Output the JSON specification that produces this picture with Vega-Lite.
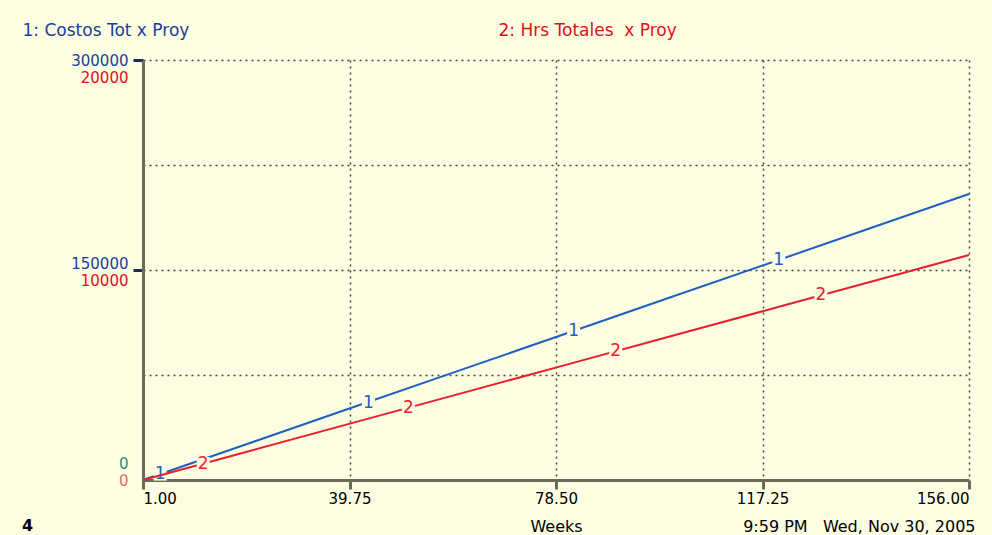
{
  "$schema": "https://vega.github.io/schema/vega-lite/v6.json",
  "width": 826,
  "height": 420,
  "autosize": "none",
  "padding": {"left": 143, "top": 60, "right": 23, "bottom": 55},
  "background": "#fdfde2",
  "config": {
    "view": {"stroke": null},
    "font": "DejaVu Sans",
    "axis": {"labelFont": "DejaVu Sans", "titleFont": "DejaVu Sans", "labelFontSize": 15, "titleFontSize": 16, "titleFontWeight": "normal"}
  },
  "title": {"text": "4", "orient": "bottom", "anchor": "start", "frame": "bounds", "fontSize": 16, "fontWeight": "bold", "color": "#000000", "offset": -16, "font": "DejaVu Sans"},
  "datasets": {
    "costos": [
      {"week": 1, "value": 0},
      {"week": 20, "value": 25040},
      {"week": 40, "value": 51400},
      {"week": 60, "value": 77760},
      {"week": 80, "value": 104100},
      {"week": 100, "value": 130500},
      {"week": 120, "value": 156800},
      {"week": 140, "value": 183200},
      {"week": 156, "value": 204300}
    ],
    "horas": [
      {"week": 1, "value": 0},
      {"week": 20, "value": 1313},
      {"week": 40, "value": 2695},
      {"week": 60, "value": 4077},
      {"week": 80, "value": 5460},
      {"week": 100, "value": 6842},
      {"week": 120, "value": 8224},
      {"week": 140, "value": 9606},
      {"week": 156, "value": 10714}
    ],
    "lab1": [
      {"week": 4.2, "value": 4218, "label": "1"},
      {"week": 43.3, "value": 55300, "label": "1"},
      {"week": 81.8, "value": 106500, "label": "1"},
      {"week": 120.3, "value": 157240, "label": "1"}
    ],
    "lab2": [
      {"week": 12.3, "value": 781, "label": "2"},
      {"week": 50.8, "value": 3441, "label": "2"},
      {"week": 89.7, "value": 6129, "label": "2"},
      {"week": 128.2, "value": 8790, "label": "2"}
    ]
  },
  "layer": [
    {
      "layer": [
        {
          "data": {"name": "costos"},
          "mark": {"type": "line", "color": "#1f5fc0", "strokeWidth": 2},
          "encoding": {
            "x": {"field": "week", "type": "quantitative", "scale": {"domain": [1, 156], "nice": false, "zero": false},
              "axis": {"orient": "bottom", "values": [1, 39.75, 78.5, 117.25, 156], "format": ".2f", "labelFlush": true, "labelColor": "#000000", "labelFontSize": 15,
                "grid": true, "gridColor": "#444438", "gridDash": [2, 4], "gridWidth": 1.5,
                "domain": true, "domainColor": "#6b6b58", "domainWidth": 3,
                "ticks": true, "tickColor": "#6b6b58", "tickWidth": 3, "tickSize": 9, "labelPadding": 2,
                "title": "Weeks", "titleFontSize": 16, "titleColor": "#000000", "titleY": 46, "titleBaseline": "middle"}},
            "y": {"field": "value", "type": "quantitative", "scale": {"domain": [0, 300000], "nice": false},
              "axis": {"orient": "left", "values": [0, 75000, 150000, 225000, 300000], "format": "d", "labelFontSize": 15,
                "labelExpr": "datum.value % 150000 == 0 ? datum.label : ''",
                "labelColor": {"condition": {"test": "datum.value == 0", "value": "#2a8a78"}, "value": "#1b3e9c"},
                "labelOffset": {"condition": [{"test": "datum.value == 0", "value": -17}, {"test": "datum.value == 150000", "value": -7}], "value": 0},
                "grid": true, "gridColor": "#444438", "gridDash": [2, 4], "gridWidth": 1.5,
                "domain": true, "domainColor": "#6b6b58", "domainWidth": 3,
                "ticks": true, "tickSize": 10, "tickWidth": 3,
                "tickColor": {"condition": {"test": "datum.value % 150000 == 0 && datum.value > 0", "value": "#1b2a5a"}, "value": "transparent"},
                "labelPadding": 5,
                "title": "1: Costos Tot x Proy", "titleFontSize": 17, "titleColor": "#1b3e9c", "titleAngle": 0, "titleAlign": "left", "titleBaseline": "middle", "titleX": -121, "titleY": -30}}
          }
        },
        {
          "data": {"name": "lab1"},
          "mark": {"type": "point", "shape": "square", "filled": true, "color": "#fdfde2", "opacity": 1, "size": 170},
          "encoding": {"x": {"field": "week", "type": "quantitative"}, "y": {"field": "value", "type": "quantitative"}}
        },
        {
          "data": {"name": "lab1"},
          "mark": {"type": "text", "color": "#1f5fc0", "fontSize": 17, "font": "DejaVu Sans"},
          "encoding": {"x": {"field": "week", "type": "quantitative"}, "y": {"field": "value", "type": "quantitative"}, "text": {"field": "label"}}
        }
      ]
    },
    {
      "layer": [
        {
          "data": {"name": "horas"},
          "mark": {"type": "line", "color": "#e8202a", "strokeWidth": 2},
          "encoding": {
            "x": {"field": "week", "type": "quantitative",
              "axis": {"orient": "bottom", "labels": false, "ticks": false, "domain": false, "grid": false,
                "title": "9:59 PM\u00a0\u00a0\u00a0Wed, Nov 30, 2005", "titleFontSize": 16, "titleColor": "#000000", "titleX": 832, "titleY": 46, "titleAlign": "right", "titleBaseline": "middle"}},
            "y": {"field": "value", "type": "quantitative", "scale": {"domain": [0, 20000], "nice": false},
              "axis": {"orient": "left", "values": [0, 10000, 20000], "format": "d", "grid": false, "domain": false, "labelFontSize": 15,
                "labelColor": {"condition": {"test": "datum.value == 0", "value": "#e07070"}, "value": "#e0101a"},
                "labelOffset": {"condition": [{"test": "datum.value == 20000", "value": 17}, {"test": "datum.value == 10000", "value": 10}], "value": 0},
                "ticks": true, "tickSize": 10, "tickColor": "transparent", "labelPadding": 5,
                "title": "2: Hrs Totales\u00a0\u00a0x Proy", "titleFontSize": 17, "titleColor": "#e0101a", "titleAngle": 0, "titleAlign": "left", "titleBaseline": "middle", "titleX": 355, "titleY": -30}}
          }
        },
        {
          "data": {"name": "lab2"},
          "mark": {"type": "point", "shape": "square", "filled": true, "color": "#fdfde2", "opacity": 1, "size": 170},
          "encoding": {"x": {"field": "week", "type": "quantitative"}, "y": {"field": "value", "type": "quantitative"}}
        },
        {
          "data": {"name": "lab2"},
          "mark": {"type": "text", "color": "#e8202a", "fontSize": 17, "font": "DejaVu Sans"},
          "encoding": {"x": {"field": "week", "type": "quantitative"}, "y": {"field": "value", "type": "quantitative"}, "text": {"field": "label"}}
        }
      ]
    }
  ],
  "resolve": {"scale": {"y": "independent"}, "axis": {"x": "independent", "y": "independent"}}
}
